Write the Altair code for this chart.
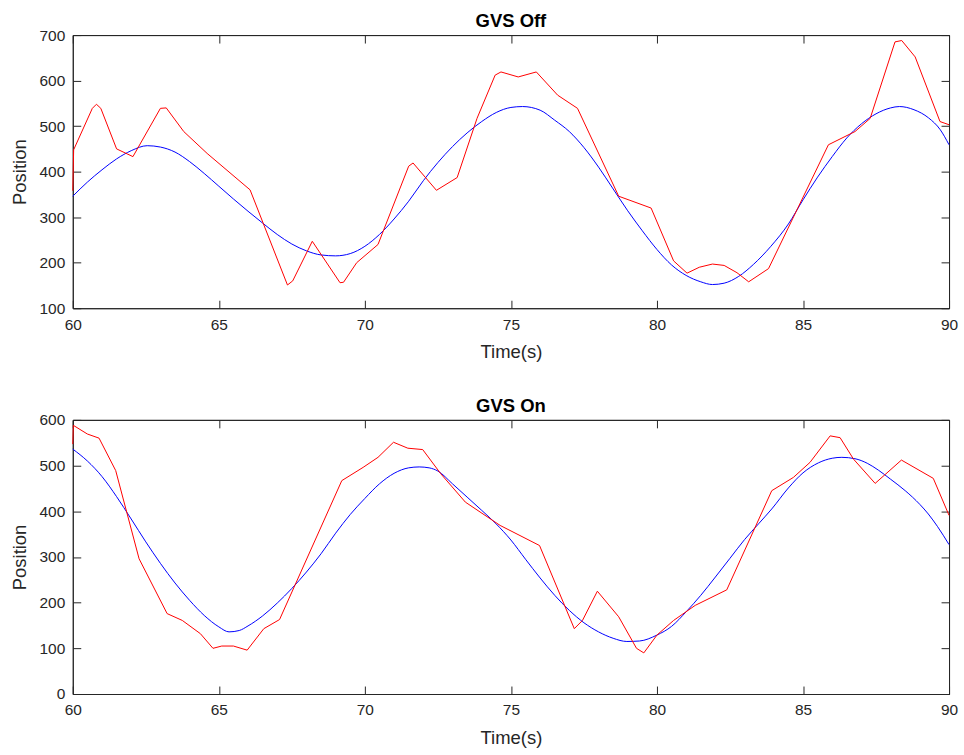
import altair as alt
import pandas as pd

FONT = "Liberation Sans"
AX = "#262626"

x_ticks = [60, 65, 70, 75, 80, 85, 90]
top_y_ticks = [100, 200, 300, 400, 500, 600, 700]
bot_y_ticks = [0, 100, 200, 300, 400, 500, 600]

# ---- GVS Off (top) ----
off_red_t = [60.0, 60.03, 60.67, 60.81, 60.96, 61.5, 62.06, 63.0, 63.2, 63.8, 64.6, 66.07,
             67.35, 67.53, 68.2, 69.15, 69.27, 69.72, 70.45, 71.5, 71.65, 72.45, 73.16,
             73.84, 74.46, 74.66, 75.25, 75.87, 76.6, 77.28, 78.69, 79.8, 80.57, 81.03,
             81.45, 81.9, 82.3, 82.74, 83.14, 83.82, 85.87, 86.78, 87.3, 88.15, 88.38,
             88.84, 89.69, 90.0]
off_red_v = [358, 448, 539, 548, 539, 450, 433, 539, 540, 488, 440, 360,
             151, 160, 247, 156, 157, 200, 240, 412, 419, 359, 387,
             517, 612, 619, 608, 619, 568, 539, 346, 320, 204, 177,
             190, 197, 194, 178, 158, 187, 459, 488, 517, 685, 688,
             652, 510, 503]

off_blue_t = [60, 60.5, 61, 61.5, 62, 62.55, 63, 63.5, 64, 64.5, 65, 65.5, 66, 66.5, 67,
              67.5, 68, 68.5, 69, 69.5, 70, 70.5, 71, 71.5, 72, 72.5, 73, 73.5, 74, 74.5,
              75, 75.4, 76, 76.5, 77, 77.5, 78, 78.5, 79, 79.5, 80, 80.5, 81, 81.5, 81.9,
              82.3, 82.8, 83.3, 83.9, 84.5, 85, 85.5, 86, 86.5, 87, 87.5, 88, 88.3, 88.8,
              89.3, 89.7, 90]
off_blue_v = [346, 377, 404, 428, 446, 457, 454, 443, 422, 396, 368, 340, 313, 287, 262,
              241, 226, 217, 215, 220, 236, 262, 296, 335, 380, 420, 455, 485, 510, 530,
              541, 543, 535, 513, 488, 453, 410, 362, 314, 270, 229, 195, 172, 158, 152,
              155, 170, 196, 236, 285, 338, 388, 433, 474, 505, 527, 540, 543, 536,
              518, 492, 459]

# ---- GVS On (bottom) ----
on_red_t = [60.0, 60.02, 60.5, 60.9, 61.47, 62.27, 63.23, 63.75, 64.37, 64.8, 65.1, 65.5,
            65.97, 66.54, 67.08, 69.21, 69.94, 70.45, 70.98, 71.47, 71.98, 72.6, 73.44,
            74.63, 75.98, 77.17, 77.45, 77.96, 78.69, 79.3, 79.55, 80.0, 80.57, 81.31,
            82.39, 83.93, 84.67, 85.24, 85.93, 86.27, 86.73, 87.47, 88.37, 89.46, 90.0]
on_red_v = [547, 588, 569, 560, 489, 296, 176, 161, 132, 100, 105, 105,
            96, 143, 163, 467, 496, 518, 551, 538, 535, 482, 420,
            369, 325, 143, 161, 225, 169, 100, 90, 129, 161, 194,
            228, 445, 474, 507, 565, 561, 514, 461, 512, 472, 391]

on_blue_t = [60, 60.5, 61, 61.5, 62, 62.5, 63, 63.5, 64, 64.5, 65, 65.35, 65.7, 66, 66.5,
             67, 67.5, 68, 68.5, 69, 69.5, 70, 70.5, 71, 71.5, 71.86, 72.2, 72.5, 73,
             73.5, 74, 74.5, 75, 75.5, 76, 76.5, 77, 77.5, 78, 78.5, 78.97, 79.4, 80,
             80.5, 81, 81.5, 82, 82.5, 83, 83.5, 83.93, 84.5, 85, 85.53, 86, 86.33,
             86.78, 87.2, 87.58, 88, 88.5, 89, 89.29, 89.6, 90]
on_blue_v = [536, 510, 476, 432, 383, 333, 286, 243, 205, 172, 147, 136, 139, 149, 171,
             199, 231, 267, 307, 352, 393, 428, 460, 483, 495, 497, 495, 488, 460,
             431, 402, 372, 337, 295, 254, 216, 183, 156, 136, 122, 115, 116, 129,
             148, 180, 216, 256, 297, 338, 374, 405, 451, 484, 506, 516, 518,
             515, 505, 490, 470, 445, 415, 394, 367, 327]

TICK = 8
NEG = alt.ExprRef(expr=f"-{TICK}")


def panel(red_t, red_v, blue_t, blue_v, title, ydom, yticks, h):
    red = pd.DataFrame({"t": red_t, "v": red_v})
    blue = pd.DataFrame({"t": blue_t, "v": blue_v})
    xs = alt.Scale(domain=[60, 90], nice=False, zero=False)
    ys = alt.Scale(domain=ydom, nice=False, zero=False)
    ax_x = alt.Axis(values=x_ticks, format="d", title="Time(s)", grid=False,
                    tickSize=NEG, labelPadding=9 + TICK, titlePadding=10, labelFlush=False)
    ax_y = alt.Axis(values=yticks, format="d", title="Position", grid=False,
                    tickSize=NEG, labelPadding=8 + TICK, titlePadding=10, labelFlush=False)
    ax_top = alt.Axis(orient="top", values=x_ticks, labels=False, title=None, grid=False,
                      tickSize=NEG)
    ax_right = alt.Axis(orient="right", values=yticks, labels=False, title=None, grid=False,
                        tickSize=NEG)
    blue_line = alt.Chart(blue).mark_line(color="#0000FF", strokeWidth=1,
                                          interpolate="monotone").encode(
        x=alt.X("t:Q", scale=xs, axis=ax_x),
        y=alt.Y("v:Q", scale=ys, axis=ax_y),
    )
    red_line = alt.Chart(red).mark_line(color="#FF0000", strokeWidth=1).encode(
        x=alt.X("t:Q", scale=xs, axis=None),
        y=alt.Y("v:Q", scale=ys, axis=None),
    )
    box = alt.Chart(blue).mark_line(opacity=0).encode(
        x=alt.X("t:Q", scale=xs, axis=ax_top),
        y=alt.Y("v:Q", scale=ys, axis=ax_right),
    )
    return alt.layer(blue_line, red_line, box).resolve_axis(
        x="independent", y="independent"
    ).properties(
        width=879, height=h,
        title=alt.TitleParams(title, font=FONT, fontSize=18.5, fontWeight="bold",
                              color="#000000", offset=-2.5, anchor="middle"),
    )


top = panel(off_red_t, off_red_v, off_blue_t, off_blue_v, "GVS Off", [100, 700], top_y_ticks, 274)
bottom = panel(on_red_t, on_red_v, on_blue_t, on_blue_v, "GVS On", [0, 600], bot_y_ticks, 275)

chart = alt.vconcat(top, bottom, spacing=34).properties(
    padding={"left": 9, "top": 10, "right": 5, "bottom": 5},
    background="white",
).configure_view(stroke=AX, strokeWidth=1).configure_axis(
    labelFont=FONT, labelFontSize=15.5, labelColor=AX,
    titleFont=FONT, titleFontSize=18.5, titleFontWeight="normal", titleColor=AX,
    domainColor=AX, tickColor=AX, domainWidth=1, tickWidth=1,
)

chart.save("out.html", embed_options={"renderer": "svg", "actions": False})
